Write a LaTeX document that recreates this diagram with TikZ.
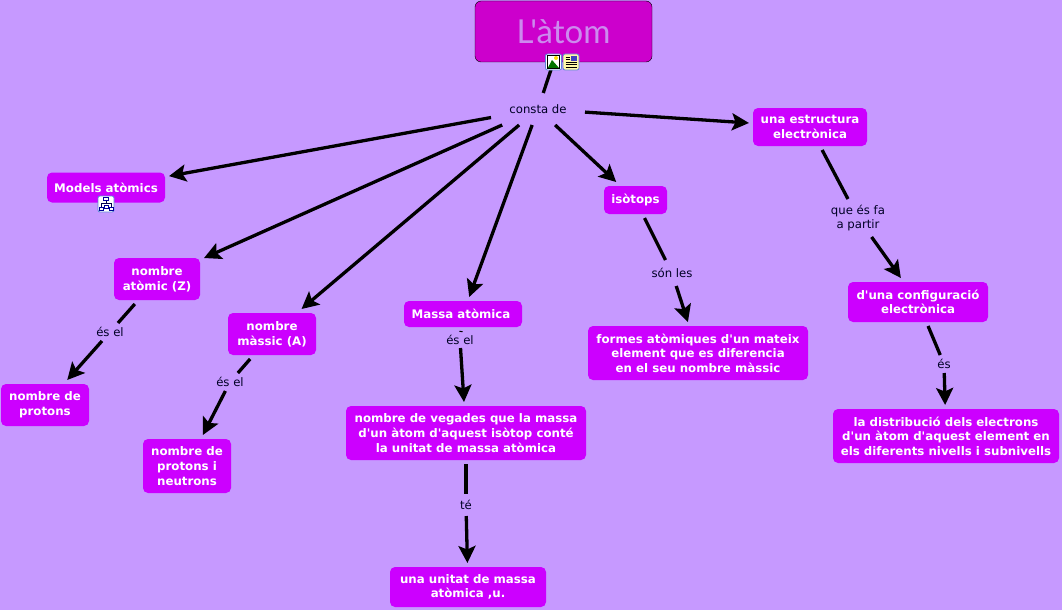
\documentclass[tikz,border=0pt]{standalone}
\usepackage{fontspec}
\newfontfamily\mapfont{DejaVu Sans}
\newfontfamily\titlefont{Lato}
\usetikzlibrary{arrows.meta}
\definecolor{mapbg}{HTML}{C699FF}
\definecolor{boxfill}{HTML}{CC00FF}
\definecolor{titlefill}{HTML}{CC00CC}
\definecolor{titletext}{HTML}{CC8AEE}
\definecolor{iconblue}{HTML}{5B84D8}
\begin{document}
\begin{tikzpicture}[x=1pt, y=-1pt]
  \tikzstyle{concept} = [rectangle, fill=boxfill, text=white, align=center, rounded corners=5pt, outer sep=4pt, inner sep=0pt, font=\mapfont\fontsize{11.8}{14.6}\selectfont\bfseries]
  \tikzstyle{linklabel} = [rectangle, align=center, inner sep=0pt, outer sep=0pt, text=black!85!blue, font=\mapfont\fontsize{11.7}{14.6}\selectfont]
  \tikzstyle{icon} = [rectangle, draw=iconblue, fill=white, rounded corners=2pt, line width=0.8pt, minimum width=16pt, minimum height=16pt, inner sep=0pt]
  \tikzstyle{arrow} = [line width=3.3pt, -{Stealth[length=17pt, width=17pt, inset=3.5pt]}]
  \tikzstyle{plain} = [line width=3.3pt]

  \fill[mapbg] (0,0) rectangle (1062,610);
  \useasboundingbox (0,0) rectangle (1062,610);

  % Title
  \node (title) [rectangle, draw=black, fill=titlefill, rounded corners=6pt, minimum width=177pt, minimum height=61pt, text=titletext, font=\titlefont\fontsize{33}{33}\selectfont] at (563.5,31.5) {L'àtom};

  % Concepts
  \node (models) [concept, minimum width=118pt, minimum height=30pt] at (106,187.5) {Models atòmics};
  \node (atomic) [concept, minimum width=86pt, minimum height=42pt] at (157,279) {nombre\\atòmic (Z)};
  \node (protons) [concept, minimum width=88pt, minimum height=42pt] at (45,405) {nombre de\\protons};
  \node (massic) [concept, minimum width=88pt, minimum height=42pt] at (272,334) {nombre\\màssic (A)};
  \node (neutrons) [concept, minimum width=88pt, minimum height=54pt] at (187,466) {nombre de\\protons i\\neutrons};
  \node (massa) [concept, minimum width=118pt, minimum height=26pt] at (463,314) {Massa atòmica\hspace*{4pt}};
  \node (vegades) [concept, minimum width=240pt, minimum height=54pt] at (466,433) {nombre de vegades que la massa\\d'un àtom d'aquest isòtop conté\\la unitat de massa atòmica};
  \node (unitat) [concept, minimum width=156pt, minimum height=40pt] at (468,587) {una unitat de massa\\atòmica ,u.};
  \node (isotops) [concept, minimum width=63pt, minimum height=28pt] at (635.5,200) {isòtops};
  \node (formes) [concept, minimum width=220pt, minimum height=54pt] at (698,353) {formes atòmiques d'un mateix\\element que es diferencia\\en el seu nombre màssic};
  \node (estructura) [concept, minimum width=114pt, minimum height=38pt] at (810,127) {una estructura\\electrònica};
  \node (config) [concept, minimum width=140pt, minimum height=40pt] at (918,302) {d'una configuració\\electrònica};
  \node (distribucio) [concept, minimum width=226pt, minimum height=54pt] at (946,436) {la distribució dels electrons\\d'un àtom d'aquest element en\\els diferents nivells i subnivells};

  % Link labels
  \node (consta) [linklabel, minimum width=94pt, minimum height=32pt] at (538,109) {consta de};
  \node (esel1) [linklabel, minimum width=34pt, minimum height=18pt] at (110,332) {és el};
  \node (esel2) [linklabel, minimum width=34pt, minimum height=18pt] at (230,382) {és el};
  \node (esel3) [linklabel, minimum width=34pt, minimum height=16pt] at (460,340) {és el};
  \node (te) [linklabel, minimum width=20pt, minimum height=22pt] at (466,505) {té};
  \node (sonles) [linklabel, minimum width=50pt, minimum height=26pt] at (672,273) {són les};
  \node (apartir) [linklabel, minimum width=60pt, minimum height=38pt] at (858,218) {que és fa\\a partir};
  \node (es) [linklabel, minimum width=16pt, minimum height=18pt] at (944,364) {és};

  % Arrows
  \draw[plain] (title) -- (consta);
  \draw[arrow] (consta) -- (models);
  \draw[arrow] (consta) -- (atomic);
  \draw[arrow] (consta) -- (massic);
  \draw[arrow] (consta) -- (massa);
  \draw[arrow] (consta) -- (isotops);
  \draw[arrow] (consta) -- (estructura);
  \draw[plain] (atomic) -- (esel1);
  \draw[arrow] (esel1) -- (protons);
  \draw[plain] (massic) -- (esel2);
  \draw[arrow] (esel2) -- (neutrons);
  \draw[plain] (massa) -- (esel3);
  \draw[arrow] (esel3) -- (vegades);
  \draw[plain] (vegades) -- (te);
  \draw[arrow] (te) -- (unitat);
  \draw[plain] (isotops) -- (sonles);
  \draw[arrow] (sonles) -- (formes);
  \draw[plain] (estructura) -- (apartir);
  \draw[arrow] (apartir) -- (config);
  \draw[plain] (config) -- (es);
  \draw[arrow] (es) -- (distribucio);

  % Icons
  \node (imgicon) [icon] at (553.5,62) {};
  \fill[green!45!black] (547.5,68.5) -- (552,60) -- (559.5,68.5) -- cycle;
  \fill[yellow!80!orange] (556,58) circle (2pt);
  \draw[black, line width=0.6pt] (547.5,55.5) rectangle (559.5,68.5);
  \node (docicon) [icon, fill=yellow!35] at (571,62) {};
  \fill[blue!50!gray] (570.5,56) rectangle (576.5,61);
  \foreach \liney in {57,59.5}
    \draw[black, line width=0.7pt] (565.5,\liney) -- (569.5,\liney);
  \foreach \liney in {62,64.5,67}
    \draw[black, line width=0.7pt] (565.5,\liney) -- (576.5,\liney);
  \node (mapicon) [icon] at (106,204) {};
  \draw[black!70!blue, line width=0.6pt] (106,199) -- (106,204) (101,208) -- (101,203.5) -- (111,203.5) -- (111,208);
  \draw[blue!60!black, line width=0.7pt, fill=white] (103.5,197.5) rectangle (108.5,200.5) (99,207.5) rectangle (103,210.5) (109,207.5) rectangle (113,210.5) (104,205) rectangle (108,208);
\end{tikzpicture}
\end{document}
